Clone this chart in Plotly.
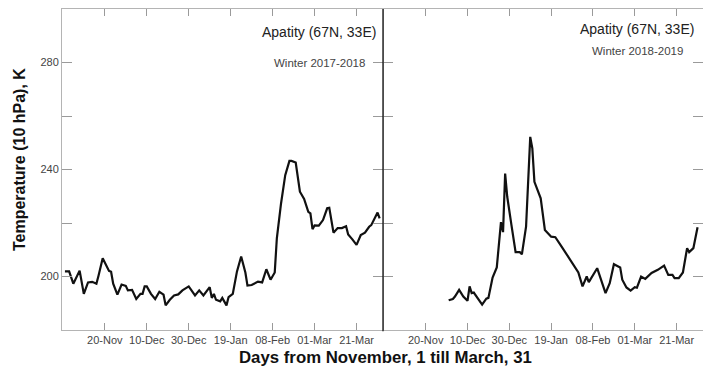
import plotly.graph_objects as go

# Day numbers counted from November 1 (= day 1)
days_2017 = [1, 3, 5, 8, 10, 12, 14, 16, 17, 19, 22, 23, 24, 26, 28, 30, 31, 33, 35, 37,
             38, 39, 40, 42, 44, 46, 48, 49, 51, 53, 55, 57, 60, 63, 65, 67, 70, 71, 72, 73,
             75, 76, 78, 79, 81, 83, 85, 87, 88, 90, 93, 95, 97, 99, 101, 102, 104, 106, 108, 109,
             111, 113, 115, 117, 118, 119, 120, 122, 124, 126, 127, 129, 131, 133, 135, 136, 138, 140, 142, 144,
             146, 147, 150, 151]
temp_2017 = [201.9, 201.9, 197.3, 202.2, 193.5, 197.8, 198.0, 197.3, 200.3, 206.8, 202.1, 201.8, 197.3, 193.2, 197.0, 196.5, 194.8, 195.0, 191.6, 193.5,
             193.5, 196.3, 196.3, 193.5, 191.6, 194.3, 193.2, 189.2, 191.3, 192.9, 193.3, 194.8, 196.3, 192.9, 194.8, 192.9, 196.0, 192.0, 193.5, 191.3,
             190.7, 192.0, 189.2, 192.3, 193.5, 201.9, 207.5, 201.5, 196.6, 196.8, 198.1, 197.8, 202.7, 198.8, 201.5, 214.3, 227.3, 237.9, 243.2, 243.2,
             242.6, 231.7, 229.0, 224.2, 223.6, 217.7, 219.1, 219.0, 221.1, 225.5, 225.7, 216.4, 218.1, 218.1, 218.8, 215.7, 213.9, 211.8, 215.5, 216.4,
             218.6, 219.2, 223.9, 221.7]

days_2018 = [31, 33, 34, 36, 38, 40, 41, 42, 43, 45, 47, 49, 50, 52, 54, 56, 57, 58, 59, 61,
             63, 65, 66, 68, 69, 70, 71, 72, 75, 77, 80, 82, 85, 89, 93, 95, 97, 98, 100, 102,
             106, 108, 110, 113, 114, 116, 118, 120, 121, 123, 125, 128, 131, 134, 136, 138, 139, 141, 143, 145,
             146, 148, 150]
temp_2018 = [191.1, 191.6, 192.5, 195.0, 192.5, 190.9, 196.3, 193.8, 194.0, 191.9, 189.5, 191.7, 192.0, 199.6, 203.4, 220.3, 216.6, 238.5, 229.8, 219.3,
             209.1, 209.1, 208.3, 218.6, 232.9, 252.2, 247.9, 235.4, 229.2, 217.4, 214.9, 214.7, 211.2, 206.2, 201.5, 196.3, 200.0, 197.9, 200.3, 203.1,
             193.8, 197.5, 204.6, 203.4, 198.8, 195.9, 194.7, 196.0, 195.8, 200.0, 199.1, 201.3, 202.5, 204.1, 200.6, 200.6, 199.4, 199.4, 201.5, 210.6,
             209.1, 210.6, 218.4]

tick_days = [20, 40, 60, 80, 100, 120, 140]
tick_labels = ["20-Nov", "10-Dec", "30-Dec", "19-Jan", "08-Feb", "01-Mar", "21-Mar"]
y_ticks = [200, 220, 240, 260, 280]
y_labels = ["200", "", "240", "", "280"]

FONT = "Liberation Sans, Arial, sans-serif"
AXIS_GRAY = "#b4b4b4"
TICK_GRAY = "#9a9a9a"
SPLIT = 321 / 641

fig = go.Figure()
fig.add_trace(go.Scatter(x=days_2017, y=temp_2017, mode="lines",
                         line=dict(color="#111111", width=2.2), xaxis="x", yaxis="y"))
fig.add_trace(go.Scatter(x=days_2018, y=temp_2018, mode="lines",
                         line=dict(color="#111111", width=2.2), xaxis="x2", yaxis="y2"))

xcommon = dict(range=[-0.4, 152.6], tickmode="array", tickvals=tick_days, ticktext=tick_labels,
               ticks="inside", ticklen=7, tickcolor=TICK_GRAY, tickwidth=1,
               showline=True, linecolor=AXIS_GRAY, linewidth=1, mirror="ticks",
               showgrid=False, zeroline=False,
               tickfont=dict(family=FONT, size=11, color="#444444"))
ycommon = dict(range=[180, 300], tickmode="array", tickvals=y_ticks, ticktext=y_labels,
               ticks="inside", ticklen=10, tickcolor=TICK_GRAY, tickwidth=1,
               showgrid=False, zeroline=False, mirror="ticks",
               tickfont=dict(family=FONT, size=11, color="#444444"))

fig.update_layout(
    width=703, height=367,
    margin=dict(l=62, r=0, t=9, b=37),
    paper_bgcolor="white", plot_bgcolor="white",
    showlegend=False,
    xaxis=dict(domain=[0, SPLIT], anchor="y", **xcommon),
    xaxis2=dict(domain=[SPLIT, 1], anchor="y2", **xcommon),
    yaxis=dict(anchor="x", showline=True, linecolor=AXIS_GRAY, linewidth=1, **ycommon),
    yaxis2=dict(anchor="x2", showline=False, showticklabels=False, **ycommon),
    shapes=[dict(type="line", xref="paper", yref="paper", x0=SPLIT, x1=SPLIT, y0=-0.004, y1=1,
                 line=dict(color="#111111", width=1.3), layer="above")],
    annotations=[
        dict(text="Apatity (67N, 33E)", xref="paper", yref="paper", x=0.4017, y=0.928,
             xanchor="center", yanchor="middle", showarrow=False,
             font=dict(family=FONT, size=14, color="#222222")),
        dict(text="Winter 2017-2018", xref="paper", yref="paper", x=0.4017, y=0.832,
             xanchor="center", yanchor="middle", showarrow=False,
             font=dict(family=FONT, size=11.5, color="#444444")),
        dict(text="Apatity (67N, 33E)", xref="paper", yref="paper", x=0.8978, y=0.9377,
             xanchor="center", yanchor="middle", showarrow=False,
             font=dict(family=FONT, size=14, color="#222222")),
        dict(text="Winter 2018-2019", xref="paper", yref="paper", x=0.8978, y=0.869,
             xanchor="center", yanchor="middle", showarrow=False,
             font=dict(family=FONT, size=11.5, color="#444444")),
        dict(text="<b>Temperature (10 hPa), K</b>", xref="paper", yref="paper", x=-0.0655, y=0.5296,
             xanchor="center", yanchor="middle", textangle=-90, showarrow=False,
             font=dict(family=FONT, size=16, color="#111111")),
        dict(text="<b>Days from November, 1 till March, 31</b>", xref="paper", yref="paper",
             x=0.5047, y=-0.0872, xanchor="center", yanchor="middle", showarrow=False,
             font=dict(family=FONT, size=16.8, color="#111111")),
    ],
)

fig.write_html("out.html")
